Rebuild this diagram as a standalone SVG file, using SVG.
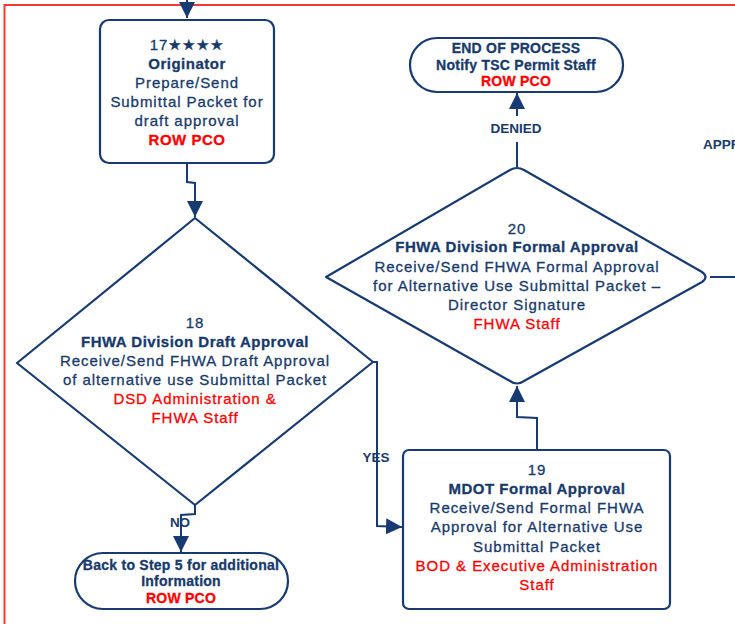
<svg xmlns="http://www.w3.org/2000/svg" width="735" height="624" viewBox="0 0 735 624">
<defs>
<marker id="ah" viewBox="0 0 10 10" refX="10" refY="5" markerWidth="16" markerHeight="16" markerUnits="userSpaceOnUse" orient="auto">
<path d="M0,0 L10,5 L0,10 Z" fill="#173a73"/>
</marker>
<style>
.shape{fill:#fff;stroke:#173a73;stroke-width:2.2;stroke-linejoin:round}
.conn{fill:none;stroke:#173a73;stroke-width:2}
.t{font-family:"Liberation Sans",Arial,sans-serif;font-size:15px;fill:#173a6b;text-anchor:middle;letter-spacing:0.95px;stroke:#173a6b;stroke-width:0.3px}
.b{font-weight:bold;letter-spacing:0.5px}
.r{fill:#ff0000;stroke:#ff0000}
.s{font-size:14px;letter-spacing:0.25px}
.lbl{font-family:"Liberation Sans",Arial,sans-serif;font-size:13.5px;font-weight:bold;fill:#173a6b;text-anchor:middle}
</style>
</defs>
<rect width="735" height="624" fill="#fff"/>
<path d="M4.5,624 L4.5,5 L735,5" fill="none" stroke="#f03a3a" stroke-width="2"/>

<g id="connectors">
<line class="conn" x1="187" y1="0" x2="187" y2="18" marker-end="url(#ah)"/>
<path class="conn" d="M187,163 L187,182 L195,183 L195,217" marker-end="url(#ah)"/>
<path class="conn" d="M373,362 L377,362 L377,526 L402,527" marker-end="url(#ah)"/>
<path class="conn" d="M195,505 L195,514 L181,515 L181,552" marker-end="url(#ah)"/>
<path class="conn" d="M537,450 L537,418 L517,417 L517,386" marker-end="url(#ah)"/>
<path class="conn" d="M517,167 L517,142"/>
<path class="conn" d="M517,116 L517,93" marker-end="url(#ah)"/>
<line class="conn" x1="710" y1="277" x2="735" y2="277"/>
<text class="lbl" x="516" y="133">DENIED</text>
<text class="lbl" x="376" y="462">YES</text>
<text class="lbl" x="180" y="527">NO</text>
<text class="lbl" x="703" y="149" style="text-anchor:start">APPROVED</text>
</g>

<g id="n17">
<rect class="shape" x="100" y="20" width="174" height="143" rx="9"/>
<text class="t" x="187" y="50">17★★★★</text>
<text class="t b" x="187" y="69">Originator</text>
<text class="t" x="187" y="88">Prepare/Send</text>
<text class="t" x="187" y="107">Submittal Packet for</text>
<text class="t" x="187" y="126">draft approval</text>
<text class="t b r" x="187" y="145">ROW PCO</text>
</g>

<g id="n18">
<path class="shape" d="M195,218 L373,362 L195,505 L17,363 Z"/>
<text class="t" x="195" y="328">18</text>
<text class="t b" x="195" y="347">FHWA Division Draft Approval</text>
<text class="t" x="195" y="366">Receive/Send FHWA Draft Approval</text>
<text class="t" x="195" y="385">of alternative use Submittal Packet</text>
<text class="t r" x="195" y="404">DSD Administration &amp;</text>
<text class="t r" x="195" y="423">FHWA Staff</text>
</g>

<g id="n_back">
<rect class="shape" x="75" y="553" width="213" height="56" rx="28"/>
<text class="t s b" x="181" y="570">Back to Step 5 for additional</text>
<text class="t s b" x="181" y="586">Information</text>
<text class="t s b r" x="181" y="603">ROW PCO</text>
</g>

<g id="n19">
<rect class="shape" x="403" y="450" width="267" height="159" rx="6"/>
<text class="t" x="537" y="475">19</text>
<text class="t b" x="537" y="494">MDOT Formal Approval</text>
<text class="t" x="537" y="513">Receive/Send Formal FHWA</text>
<text class="t" x="537" y="532">Approval for Alternative Use</text>
<text class="t" x="537" y="552">Submittal Packet</text>
<text class="t r" x="537" y="571">BOD &amp; Executive Administration</text>
<text class="t r" x="537" y="590">Staff</text>
</g>

<g id="n20">
<path class="shape" d="M510,170 Q517,166 524,170 L702,272 Q709,277 702,282 L524,381 Q517,386 510,381 L326,277 Z"/>
<text class="t" x="517" y="234">20</text>
<text class="t b" x="517" y="252">FHWA Division Formal Approval</text>
<text class="t" x="517" y="272">Receive/Send FHWA Formal Approval</text>
<text class="t" x="517" y="291">for Alternative Use Submittal Packet –</text>
<text class="t" x="517" y="310">Director Signature</text>
<text class="t r" x="517" y="329">FHWA Staff</text>
</g>

<g id="n_end">
<rect class="shape" x="410" y="38" width="213" height="54" rx="27"/>
<text class="t s b" x="516" y="53">END OF PROCESS</text>
<text class="t s b" x="516" y="70">Notify TSC Permit Staff</text>
<text class="t s b r" x="516" y="86">ROW PCO</text>
</g>
</svg>
